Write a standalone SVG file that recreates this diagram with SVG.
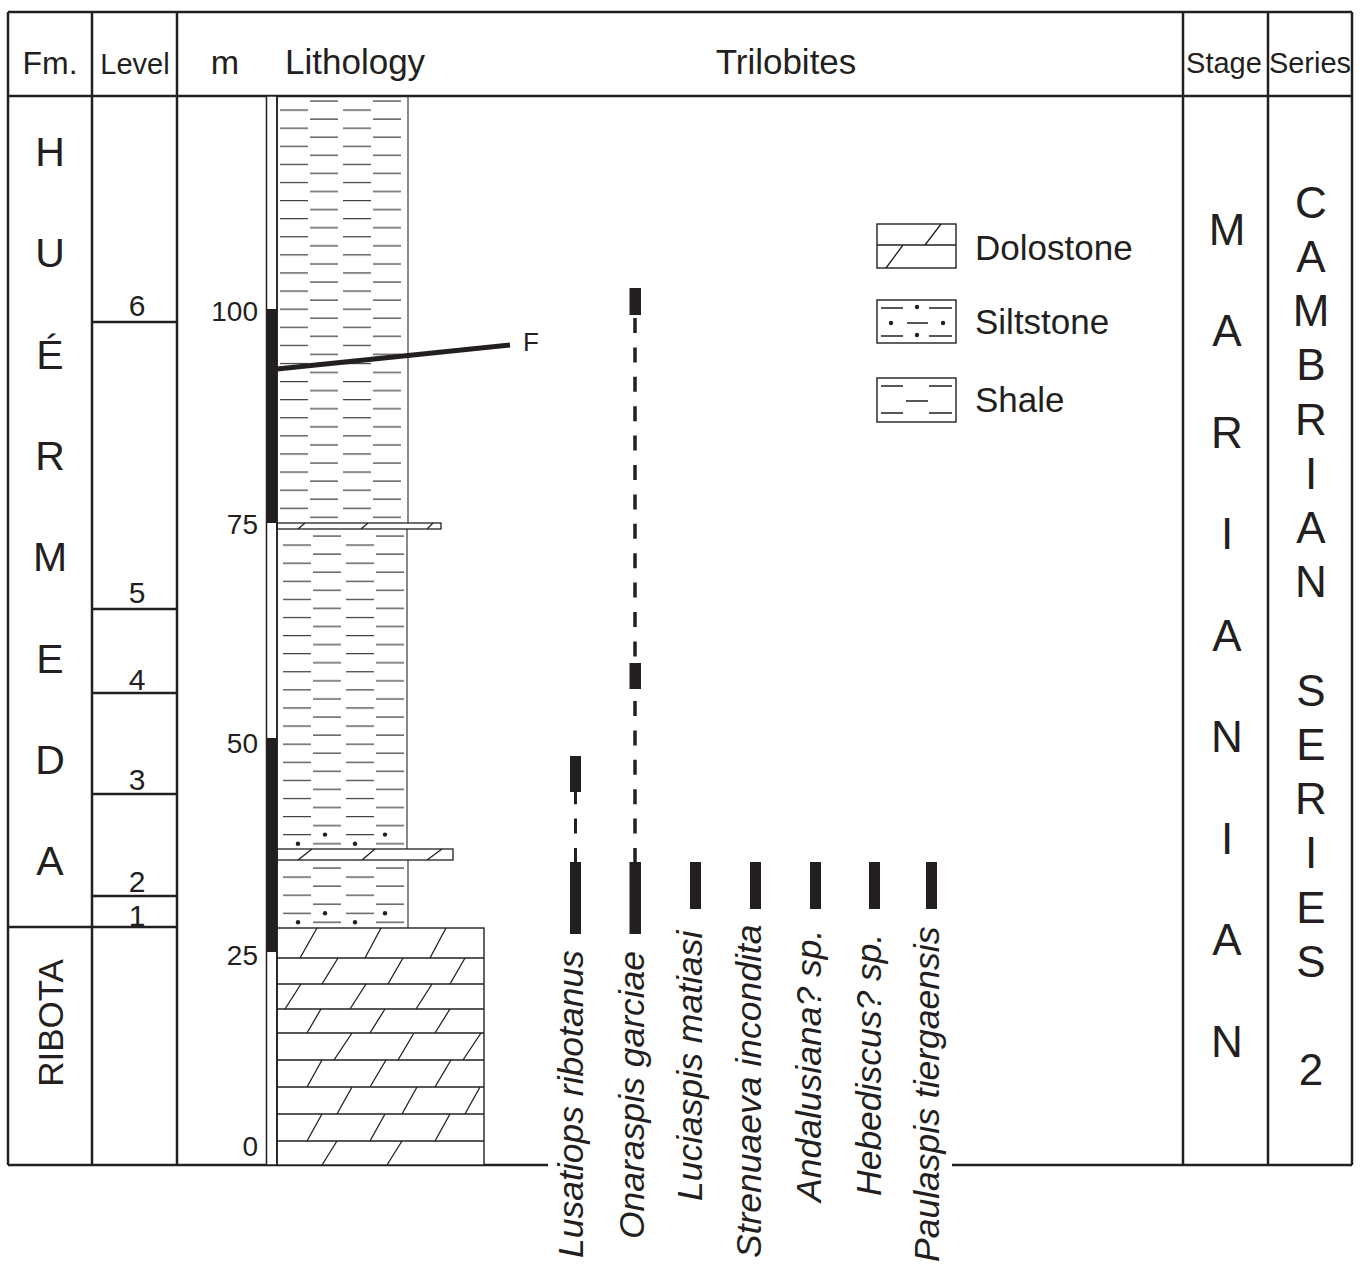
<svg xmlns="http://www.w3.org/2000/svg" width="1363" height="1264" viewBox="0 0 1363 1264">
<style>
text{font-family:"Liberation Sans",Arial,Helvetica,sans-serif;fill:#231f20}
.frame{stroke:#231f20;stroke-width:2.5;fill:none}
.hdr{font-size:35px}
.fm{font-size:41px;text-anchor:middle}
.col{font-size:44px;text-anchor:middle}
.num{font-size:28px;text-anchor:end}
.lvl{font-size:30px;text-anchor:middle}
.sp{font-size:35.5px;font-style:italic}
.leg{font-size:35px}
.thin{stroke:#231f20;stroke-width:1.3;fill:none}
.edge{stroke:#3a3a3a;stroke-width:1.2;fill:none}
.box{stroke:#231f20;stroke-width:1.4;fill:#fff}
.bar{fill:#231f20}
.dash{stroke:#231f20;stroke-width:3.5;stroke-dasharray:15 14.4;fill:none}
.dot{fill:#231f20}
</style>
<defs>
<pattern id="shale" patternUnits="userSpaceOnUse" x="277" y="0" width="140" height="18.1">
<path d="M33,2H61M96,2H124M3,11.05H31M66,11.05H94" stroke="#3a3a3a" stroke-width="1.3" fill="none"/>
</pattern>
</defs>
<rect x="0" y="0" width="1363" height="1264" fill="#fff"/>

<g id="frame">
<path class="frame" d="M8,12H1352M8,96H1352M8,12V1165M92,12V1165M177,12V1165M1183,12V1165M1268,12V1165M1352,12V1165M8,1165H548M952,1165H1352"/>
<path class="frame" d="M92,322H177M92,609H177M92,693H177M92,794H177M92,896H177M8,927H177"/>
</g>

<g id="headers">
<text class="hdr" x="50" y="74" text-anchor="middle" style="font-size:32px">Fm.</text>
<text class="hdr" x="135" y="74" text-anchor="middle" style="font-size:29px">Level</text>
<text class="hdr" x="225" y="74" text-anchor="middle" style="font-size:34px">m</text>
<text class="hdr" x="285" y="74">Lithology</text>
<text class="hdr" x="786" y="74" text-anchor="middle">Trilobites</text>
<text class="hdr" x="1224" y="73" text-anchor="middle" style="font-size:29px">Stage</text>
<text class="hdr" x="1310" y="73" text-anchor="middle" style="font-size:29px">Series</text>
</g>

<g id="formation">
<text class="fm"><tspan x="50" y="166">H</tspan><tspan x="50" y="267">U</tspan><tspan x="50" y="369">É</tspan><tspan x="50" y="470">R</tspan><tspan x="50" y="571">M</tspan><tspan x="50" y="673">E</tspan><tspan x="50" y="774">D</tspan><tspan x="50" y="875">A</tspan></text>
<text x="63" y="1023" transform="rotate(-90 63 1023)" text-anchor="middle" style="font-size:35px">RIBOTA</text>
</g>

<g id="levels">
<text class="lvl" x="137" y="316">6</text>
<text class="lvl" x="137" y="603">5</text>
<text class="lvl" x="137" y="690">4</text>
<text class="lvl" x="137" y="790">3</text>
<text class="lvl" x="137" y="892">2</text>
<text class="lvl" x="137" y="926">1</text>
</g>

<g id="scale">
<rect x="266.5" y="96" width="10.5" height="1069" fill="#fff" stroke="#231f20" stroke-width="1.5"/>
<rect class="bar" x="266" y="309" width="11" height="214"/>
<rect class="bar" x="266" y="738" width="11" height="214"/>
<text class="num" x="258" y="321">100</text>
<text class="num" x="258" y="534">75</text>
<text class="num" x="258" y="753">50</text>
<text class="num" x="258" y="965">25</text>
<text class="num" x="258" y="1156">0</text>
</g>

<g id="lithology">
<g transform="translate(0,99)"><rect x="277" y="-3" width="131" height="427" fill="url(#shale)"/></g>
<path class="edge" d="M408,96V523"/>
<g transform="translate(3,534)"><rect x="274" y="-5" width="130" height="320" fill="url(#shale)"/></g>
<path class="edge" d="M407,529V849"/>
<g transform="translate(3,866)"><rect x="274" y="-6" width="131" height="68" fill="url(#shale)"/></g>
<path class="edge" d="M408,860V928"/>
<g class="dot">
<circle cx="325" cy="834.6" r="2.2"/><circle cx="385" cy="834.6" r="2.2"/><circle cx="298" cy="843.7" r="2.2"/><circle cx="355" cy="843.7" r="2.2"/>
<circle cx="325" cy="913.2" r="2.2"/><circle cx="385" cy="913.2" r="2.2"/><circle cx="298" cy="922.3" r="2.2"/><circle cx="355" cy="922.3" r="2.2"/>
</g>
<rect x="277" y="523" width="164" height="6" fill="#fff" class="thin"/>
<path class="thin" d="M298,529L305,523M361,529L368,523M427,529L433,523"/>
<rect x="277" y="849" width="176" height="11" fill="#fff" class="thin"/>
<path class="thin" d="M298,860L312,849M362,860L375,849M427,860L442,849"/>
<rect x="277" y="928" width="207" height="237" fill="#fff" stroke="#231f20" stroke-width="1.4"/>
<path class="thin" d="M277,958H484M277,984H484M277,1009H484M277,1033H484M277,1060H484M277,1087H484M277,1114H484M277,1141H484"/>
<path class="thin" d="M300,958L317,928M365,958L381,928M430,958L446,928M322,984L338,958M388,984L403,958M450,984L465,958M285,1009L301,984M350,1009L366,984M416,1009L432,984M307,1033L321,1009M370,1033L385,1009M435,1033L450,1009M334,1060L352,1033M398,1060L414,1033M463,1060L481,1033M307,1087L322,1060M370,1087L386,1060M435,1087L451,1060M337,1114L352,1087M402,1114L417,1087M465,1114L480,1087M307,1141L322,1114M370,1141L385,1114M435,1141L450,1114M322,1165L337,1141M387,1165L402,1141"/>
<path d="M277,96V1165" stroke="#231f20" stroke-width="1.5"/>
</g>

<g id="fault">
<path d="M277,369L510,345" stroke="#231f20" stroke-width="5" fill="none"/>
<text x="523" y="351" style="font-size:26px">F</text>
</g>

<g id="ranges">
<rect class="bar" x="629.5" y="288" width="11.5" height="27"/>
<path class="dash" d="M635,318V663"/>
<rect class="bar" x="629.5" y="663" width="11.5" height="26"/>
<path class="dash" d="M635,701V862"/>
<rect class="bar" x="629.5" y="862" width="11.5" height="72"/>
<rect class="bar" x="570" y="756" width="11" height="36"/>
<path class="dash" d="M575.5,789.2V862" style="stroke-width:3"/>
<rect class="bar" x="570" y="862" width="11" height="72"/>
<rect class="bar" x="690" y="862" width="11" height="47"/>
<rect class="bar" x="750" y="862" width="11" height="47"/>
<rect class="bar" x="810" y="862" width="11" height="47"/>
<rect class="bar" x="869" y="862" width="11" height="47"/>
<rect class="bar" x="926" y="862" width="11" height="47"/>
</g>

<g id="taxa">
<text class="sp" transform="translate(583,1258) rotate(-90)">Lusatiops ribotanus</text>
<text class="sp" transform="translate(644,1239) rotate(-90)">Onaraspis garciae</text>
<text class="sp" transform="translate(702,1201) rotate(-90)">Luciaspis matiasi</text>
<text class="sp" transform="translate(761,1258) rotate(-90)">Strenuaeva incondita</text>
<text class="sp" transform="translate(821,1202) rotate(-90)">Andalusiana? sp.</text>
<text class="sp" transform="translate(881,1196) rotate(-90)">Hebediscus? sp.</text>
<text class="sp" transform="translate(939,1262) rotate(-90)">Paulaspis tiergaensis</text>
</g>

<g id="legend">
<rect class="box" x="877" y="224" width="79" height="44"/>
<path class="thin" d="M877,245H956M925,245L941,224M886,268L903,245"/>
<text class="leg" x="975" y="260">Dolostone</text>
<rect class="box" x="877" y="300" width="79" height="43"/>
<path class="thin" d="M881,308H903M929,308H952M907,323H928M881,336H903M929,336H952"/>
<circle class="dot" cx="917" cy="307" r="2.2"/><circle class="dot" cx="891" cy="323" r="2.2"/><circle class="dot" cx="943" cy="323" r="2.2"/><circle class="dot" cx="917" cy="335" r="2.2"/>
<text class="leg" x="975" y="334">Siltstone</text>
<rect class="box" x="877" y="378" width="79" height="44"/>
<path class="thin" d="M881,386H903M929,386H952M906,401H928M881,413H903M929,413H952"/>
<text class="leg" x="975" y="412">Shale</text>
</g>

<g id="stage">
<text class="col"><tspan x="1227" y="245">M</tspan><tspan x="1227" y="346">A</tspan><tspan x="1227" y="448">R</tspan><tspan x="1227" y="549">I</tspan><tspan x="1227" y="651">A</tspan><tspan x="1227" y="752">N</tspan><tspan x="1227" y="854">I</tspan><tspan x="1227" y="955">A</tspan><tspan x="1227" y="1057">N</tspan></text>
</g>

<g id="series">
<text class="col"><tspan x="1311" y="218">C</tspan><tspan x="1311" y="272">A</tspan><tspan x="1311" y="326">M</tspan><tspan x="1311" y="380">B</tspan><tspan x="1311" y="435">R</tspan><tspan x="1311" y="489">I</tspan><tspan x="1311" y="543">A</tspan><tspan x="1311" y="597">N</tspan><tspan x="1311" y="706">S</tspan><tspan x="1311" y="760">E</tspan><tspan x="1311" y="814">R</tspan><tspan x="1311" y="868">I</tspan><tspan x="1311" y="923">E</tspan><tspan x="1311" y="977">S</tspan><tspan x="1311" y="1085">2</tspan></text>
</g>
</svg>
